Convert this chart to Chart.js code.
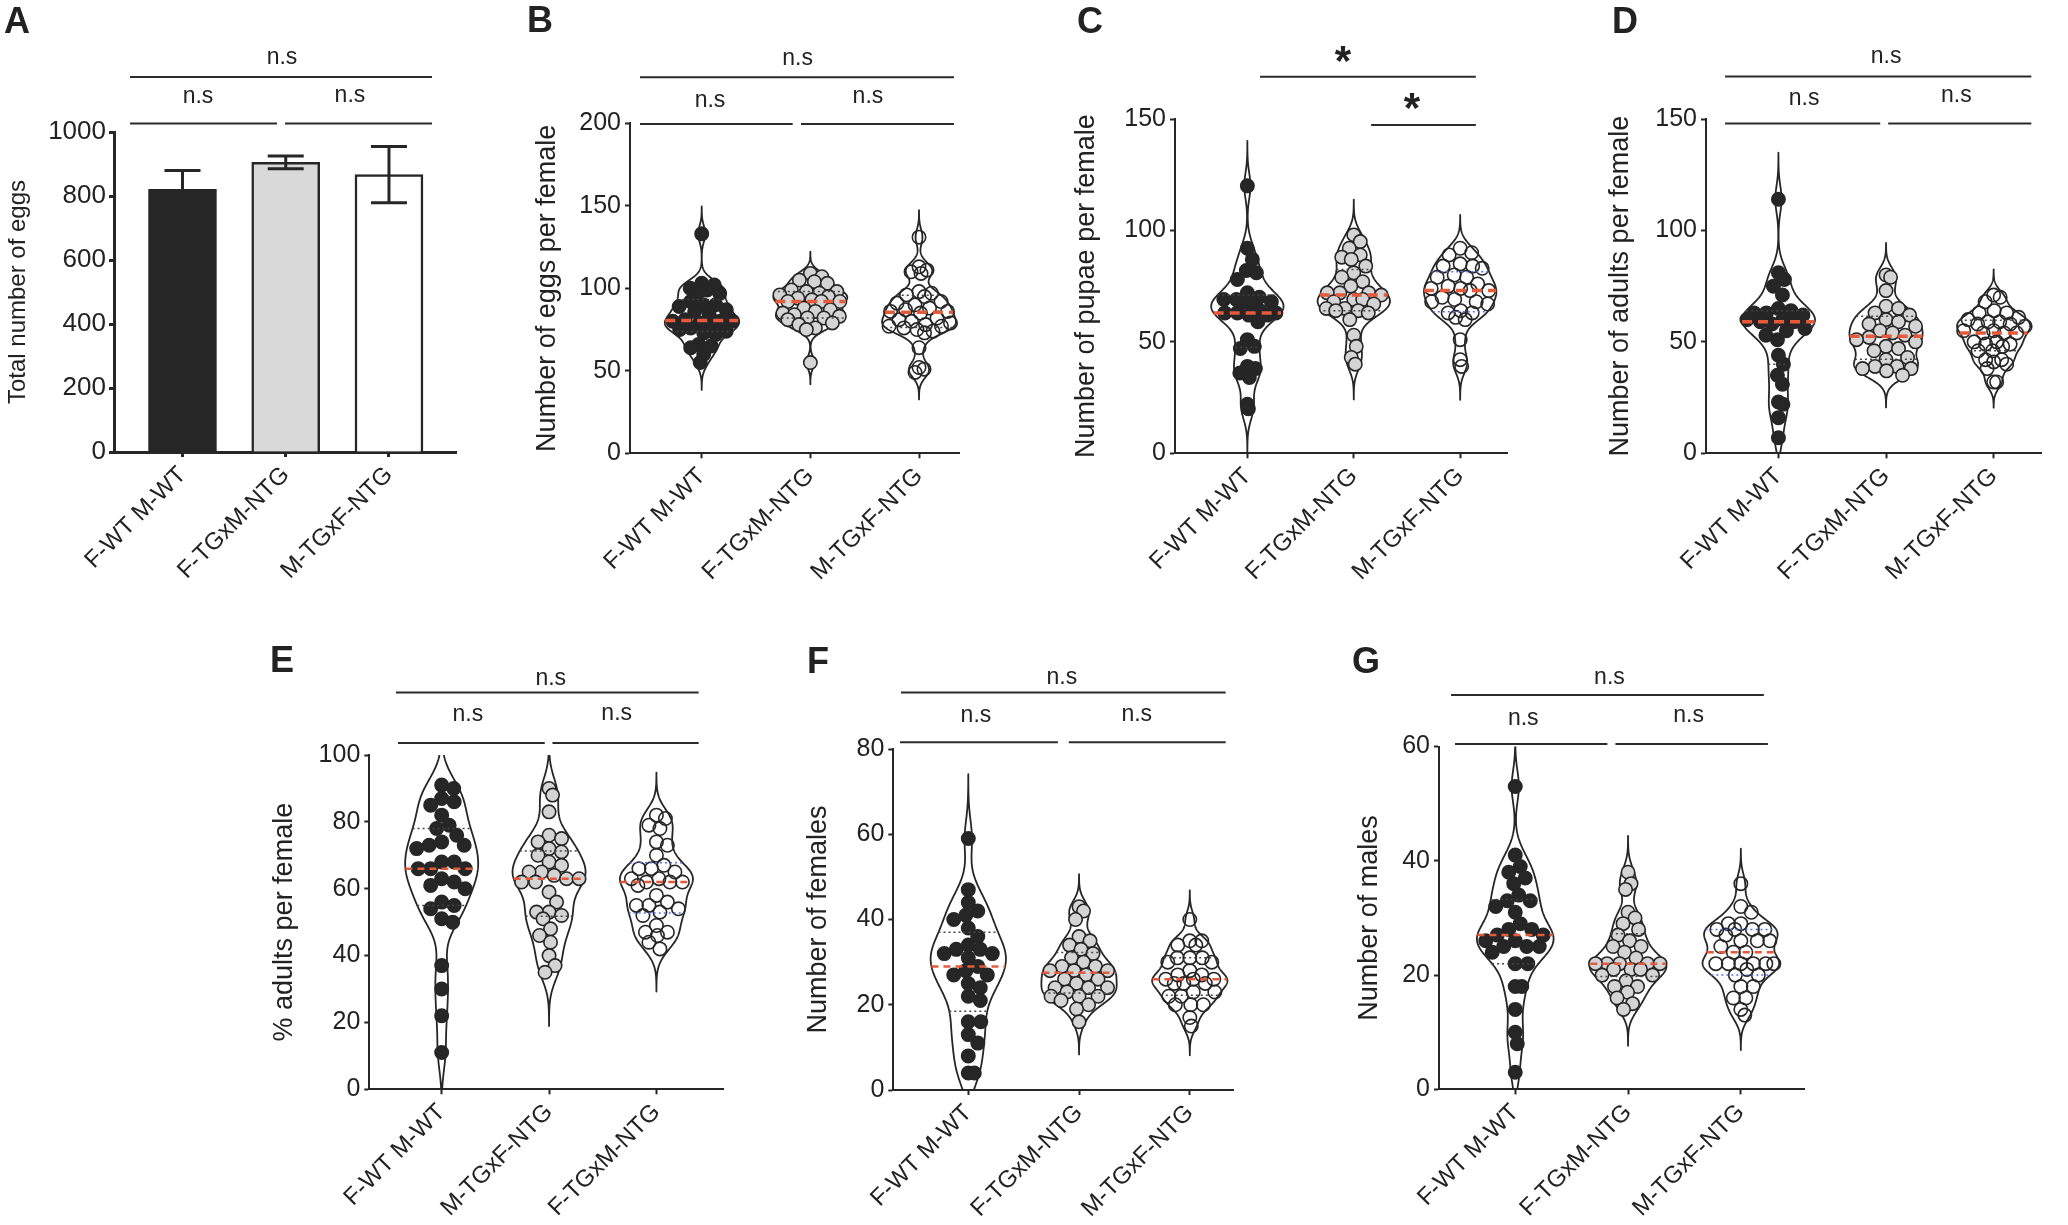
<!DOCTYPE html>
<html><head><meta charset="utf-8">
<script src="https://cdn.jsdelivr.net/npm/chart.js@4.4.1/dist/chart.umd.min.js"></script>
<style>
html,body{margin:0;padding:0;background:#fff;width:2068px;height:1225px;overflow:hidden;position:relative}
canvas{position:absolute}
</style></head><body>
<script>
// ---------------- DATA ----------------
const CATS   = ["F-WT M-WT", "F-TGxM-NTG", "M-TGxF-NTG"];
const CATS_E = ["F-WT M-WT", "M-TGxF-NTG", "F-TGxM-NTG"];

// Panel A: total number of eggs (mean, error)
const totalEggsMean = [821, 905, 867];
const totalEggsErr  = [59, 20, 88];

// Panel B: number of eggs per female
const eggs_WT  = [133,103,102,100,99,98,97,92,90,90,89,87,86,84,81,80,80,80,79,78,76,75,74,73,72,66,65,64,60,55];
const eggs_FTG = [109,107,105,104,103,99,98,98,97,96,95,94,93,92,92,92,88,87,86,85,84,83,82,82,81,79,78,76,75,55];
const eggs_MTG = [131,113,111,110,109,98,97,96,95,92,91,90,88,87,86,86,85,82,81,80,79,78,77,77,76,75,74,73,64,52,51,49];

// Panel C: number of pupae per female
const pupae_WT  = [120,92,87,82,81,78,72,70,69,69,68,68,68,64,63,63,63,62,62,59,51,48,47,39,38,36,34,22,20];
const pupae_FTG = [98,95,92,89,88,87,84,81,79,77,75,72,72,72,71,69,69,68,67,65,65,64,64,63,60,53,48,43,40];
const pupae_MTG = [92,90,89,85,84,84,83,80,79,79,76,75,74,74,73,73,70,69,68,68,67,64,63,63,61,60,51,42,39];

// Panel D: number of adults per female
const adults_WT  = [114,81,78,75,71,65,64,63,63,62,60,60,59,59,58,56,55,53,51,44,40,35,31,23,22,16,7];
const adults_FTG = [80,79,73,66,65,63,62,60,59,58,57,55,54,53,52,51,50,48,47,46,43,42,39,39,38,38,37,35];
const adults_MTG = [71,70,68,64,63,63,61,60,59,59,58,58,57,55,55,54,54,54,50,50,49,49,48,46,46,42,42,41,40,38,32,32];

// Panel E: % adults per female
const pct_WT  = [91,90,87,86,85,82,79,78,76,74,73,73,72,68,68,66,66,66,63,62,61,60,56,55,54,51,50,37,30,22,11];
const pct_MTG = [90,88,83,76,75,74,72,71,70,68,67,65,65,64,63,63,62,62,59,56,53,53,52,51,48,46,44,40,37,35];
const pct_FTG = [82,81,79,78,74,73,70,67,66,66,65,63,63,62,62,62,61,58,56,55,55,54,53,52,49,47,47,46,44,42];

// Panel F: number of females
const females_WT  = [59,47,44,42,41,40,38,36,34,33,33,32,32,31,29,28,27,27,25,24,22,21,16,16,13,11,8,4,4];
const females_FTG = [43,42,40,36,35,34,33,32,31,30,29,29,28,28,28,27,26,26,25,24,24,24,23,22,22,22,21,20,19,16];
const females_MTG = [40,35,35,34,34,31,31,31,30,30,28,27,27,26,26,26,25,25,25,23,23,22,22,20,20,20,17,15];

// Panel G: number of males
const males_WT  = [53,41,39,38,37,36,34,33,33,32,31,29,28,28,27,27,26,26,25,25,25,24,22,22,18,18,14,10,8,3];
const males_FTG = [38,36,35,31,30,29,28,27,26,25,25,24,23,22,22,22,22,22,21,21,21,20,20,19,18,18,17,16,15,14];
const males_MTG = [36,32,31,29,29,28,28,28,28,27,26,26,26,25,24,24,22,22,22,22,22,22,21,20,20,18,18,16,16,14,13];

// Tick values
const ticksA = [0,200,400,600,800,1000];
const ticksB = [0,50,100,150,200];
const ticksC = [0,50,100,150];
const ticksD = [0,50,100,150];
const ticksE = [0,20,40,60,80,100];
const ticksF = [0,20,40,60,80];
const ticksG = [0,20,40,60];

// ---------------- STYLE ----------------
Chart.defaults.font.family = "'Liberation Sans', Arial, Helvetica, sans-serif";
Chart.defaults.color = '#222';
const INK = '#262626';
const FILLS = ['#262626', '#d4d4d4', 'rgba(255,255,255,0)'];
const BAR_FILLS = ['#262626', '#d9d9d9', '#ffffff'];
const RED = '#e65a3a';
const BLUE = '#5a6fd8';
const DARKDOT = '#444';

// ---------------- PANELS (layout) ----------------
const panels = [
  { kind:'bar', rect:[0,0,480,620], plot:[114,132,456.7,452], xr:[0.3366,3.656], yMax:1000, yTicks:ticksA,
    cats:CATS, title:'Total number of eggs', titleSize:24, titleCenter:18.5, tickSize:26, tickPad:3, axisW:3, catSize:24,
    letter:{t:'A', x:4, y:33},
    lines:[[0.492,3.417,77],[0.492,1.915,123.5],[1.993,3.417,123.5]],
    texts:[['n.s',1.964,64],['n.s',1.150,103],['n.s',2.622,102]] },
  { kind:'violin', rect:[520,0,460,620], plot:[630,123.3,959,453.3], xr:[0.34,3.368], yMax:200, yTicks:ticksB,
    cats:CATS, groups:[eggs_WT, eggs_FTG, eggs_MTG], title:'Number of eggs per female', titleSize:27, titleCenter:548,
    tickSize:25, tickPad:4, axisW:2, catSize:24, medW:3.5, medDash:[10,6], qCols:[DARKDOT,DARKDOT,DARKDOT],
    letter:{t:'B', x:527, y:32},
    lines:[[0.432,3.322,77.3],[0.432,1.837,124],[1.914,3.322,124]],
    texts:[['n.s',1.883,65],['n.s',1.076,107],['n.s',2.530,103]] },
  { kind:'violin', rect:[1060,0,470,620], plot:[1175,119,1507,453.3], xr:[0.32,3.44], yMax:150, yTicks:ticksC,
    cats:CATS, groups:[pupae_WT, pupae_FTG, pupae_MTG], title:'Number of pupae per female', titleSize:27, titleCenter:1087,
    tickSize:25, tickPad:4, axisW:2, catSize:24, medW:3.5, medDash:[10,6], qCols:[DARKDOT,DARKDOT,BLUE],
    letter:{t:'C', x:1077, y:33},
    lines:[[1.119,3.147,76.7],[2.163,3.147,125]],
    stars:[['*',1.897,75],['*',2.546,122]] },
  { kind:'violin', rect:[1595,0,473,620], plot:[1706,119,2041,453.3], xr:[0.327,3.44], yMax:150, yTicks:ticksD,
    cats:CATS, groups:[adults_WT, adults_FTG, adults_MTG], title:'Number of adults per female', titleSize:27, titleCenter:1621,
    tickSize:25, tickPad:4, axisW:2, catSize:24, medW:3.5, medDash:[10,6], qCols:[DARKDOT,DARKDOT,DARKDOT],
    letter:{t:'D', x:1612, y:33},
    lines:[[0.504,3.350,76.5],[0.504,1.946,123.5],[2.020,3.350,123.5]],
    texts:[['n.s',2.001,63],['n.s',1.239,105],['n.s',2.653,102]] },
  { kind:'violin', rect:[255,630,480,595], plot:[369.3,755,723,1089.3], xr:[0.326,3.62], yMax:100, yTicks:ticksE,
    cats:CATS_E, groups:[pct_WT, pct_MTG, pct_FTG], title:'% adults per female', titleSize:27, titleCenter:285,
    tickSize:25, tickPad:4, axisW:2, catSize:24, medW:2.5, medDash:[7,5], qCols:[DARKDOT,DARKDOT,BLUE],
    letter:{t:'E', x:270, y:672},
    lines:[[0.574,3.393,692.4],[0.593,1.960,743],[2.032,3.393,743]],
    texts:[['n.s',2.016,685],['n.s',1.244,721],['n.s',2.630,719.5]] },
  { kind:'violin', rect:[790,630,460,595], plot:[893.3,749,1233,1090], xr:[0.323,3.39], yMax:80, yTicks:ticksF,
    cats:CATS, groups:[females_WT, females_FTG, females_MTG], title:'Number of females', titleSize:27, titleCenter:819,
    tickSize:25, tickPad:4, axisW:2, catSize:24, medW:2.5, medDash:[7,5], qCols:[DARKDOT,DARKDOT,DARKDOT],
    letter:{t:'F', x:807, y:673},
    lines:[[0.392,3.324,692.4],[0.383,1.809,742.3],[1.908,3.324,742.3]],
    texts:[['n.s',1.845,684],['n.s',1.069,722],['n.s',2.521,721]] },
  { kind:'violin', rect:[1340,630,480,595], plot:[1439,746.5,1804,1089.4], xr:[0.324,3.56], yMax:60, yTicks:ticksG,
    cats:CATS, groups:[males_WT, males_FTG, males_MTG], title:'Number of males', titleSize:27, titleCenter:1370,
    tickSize:25, tickPad:4, axisW:2, catSize:24, medW:2.5, medDash:[7,5], qCols:[DARKDOT,DARKDOT,BLUE],
    letter:{t:'G', x:1352, y:673},
    lines:[[0.431,3.204,695],[0.466,1.817,744],[1.888,3.240,744]],
    texts:[['n.s',1.835,684],['n.s',1.071,725],['n.s',2.537,722]] }
];

// ---------------- HELPERS ----------------
function quantile(s, p) {
  const n = s.length;
  const pos = (n + 1) * p - 1;
  if (pos <= 0) return s[0];
  if (pos >= n - 1) return s[n - 1];
  const i = Math.floor(pos), f = pos - i;
  return s[i] + f * (s[i + 1] - s[i]);
}
function violinStats(vals) {
  const s = vals.slice().sort((a, b) => a - b);
  const n = s.length;
  const mean = s.reduce((a, b) => a + b, 0) / n;
  const sd = Math.sqrt(s.reduce((a, b) => a + (b - mean) ** 2, 0) / (n - 1));
  const q1 = quantile(s, 0.25), med = quantile(s, 0.5), q3 = quantile(s, 0.75);
  const spread = Math.min(sd, (q3 - q1) / 1.34 || sd);
  const h0 = 0.9 * spread * Math.pow(n, -0.2);
  const h = h0 * 0.72;
  const lo = s[0] - 2.5 * h0, hi = s[n - 1] + 2.5 * h0;
  const dens = y => { let t = 0; for (const v of s) { const z = (y - v) / h; t += Math.exp(-0.5 * z * z); } return t; };
  let maxD = 0;
  for (let i = 0; i <= 500; i++) { const d = dens(lo + (hi - lo) * i / 500); if (d > maxD) maxD = d; }
  const halfW = y => 0.34 * dens(y) / maxD;
  return { vals: s, q1, med, q3, lo, hi, halfW };
}
function swarm(chart, st, g, r) {
  const xs = chart.scales.x, ys = chart.scales.y;
  const ppu = xs.getPixelForValue(2) - xs.getPixelForValue(1);
  const vals = st.vals.slice().sort((a, b) => b - a);
  const placed = [];
  const minD = 2 * r * 0.93;
  const out = [];
  for (const v of vals) {
    const py = ys.getPixelForValue(v);
    const maxOff = Math.max(0, st.halfW(v) * ppu - r * 0.75);
    let best = 0, bestMd = -1;
    let found = false;
    for (let s = 0; s <= maxOff && !found; s += 0.5) {
      const cands = s === 0 ? [0] : [s, -s];
      for (const off of cands) {
        let md = Infinity;
        for (const p of placed) {
          const d = Math.hypot(p[0] - off, p[1] - py);
          if (d < md) md = d;
        }
        if (md >= minD) { best = off; found = true; break; }
        if (md > bestMd) { bestMd = md; best = off; }
      }
    }
    placed.push([best, py]);
    out.push({ x: g + 1 + best / ppu, y: v });
  }
  return out;
}

// ---------------- BUILD ----------------
function build(p) {
  const [L, T, W, H] = p.rect;
  const [pl, pt, pr, pb] = p.plot;
  const cv = document.createElement('canvas');
  cv.width = W; cv.height = H;
  cv.style.left = L + 'px'; cv.style.top = T + 'px';
  cv.style.width = W + 'px'; cv.style.height = H + 'px';
  document.body.appendChild(cv);

  const yW = pl - L, xH = T + H - pb;
  const titleLH = p.titleSize * 1.2;
  const stats = p.kind === 'violin' ? p.groups.map(violinStats) : null;
  const R = 6.7;

  let datasets;
  if (p.kind === 'bar') {
    datasets = [{
      type: 'bar',
      data: totalEggsMean.map((v, i) => ({ x: i + 1, y: v })),
      backgroundColor: BAR_FILLS, borderColor: INK, borderWidth: 2.5,
      barThickness: 68, borderSkipped: 'bottom'
    }];
  } else {
    datasets = p.groups.map((vals, g) => ({
      type: 'scatter',
      data: vals.map(v => ({ x: g + 1, y: v })),
      pointRadius: R, pointHoverRadius: R,
      pointBackgroundColor: FILLS[g], pointBorderColor: INK, pointBorderWidth: 1.6,
      showLine: false, clip: false
    }));
  }

  const decor = {
    id: 'decor',
    beforeDatasetsDraw(chart) {
      if (!stats) return;
      const ctx = chart.ctx, xs = chart.scales.x, ys = chart.scales.y, a = chart.chartArea;
      ctx.save();
      ctx.beginPath(); ctx.rect(a.left, a.top, a.right - a.left, a.bottom - a.top); ctx.clip();
      ctx.strokeStyle = INK; ctx.lineWidth = 1.8; ctx.lineJoin = 'round';
      stats.forEach((st, g) => {
        const c = g + 1, N = 300;
        ctx.beginPath();
        for (let i = 0; i <= N; i++) {
          const y = st.lo + (st.hi - st.lo) * i / N;
          const px = xs.getPixelForValue(c + st.halfW(y)), py = ys.getPixelForValue(y);
          if (i === 0) ctx.moveTo(px, py); else ctx.lineTo(px, py);
        }
        for (let i = N; i >= 0; i--) {
          const y = st.lo + (st.hi - st.lo) * i / N;
          ctx.lineTo(xs.getPixelForValue(c - st.halfW(y)), ys.getPixelForValue(y));
        }
        ctx.closePath();
        ctx.stroke();
      });
      ctx.restore();
    },
    afterDatasetsDraw(chart) {
      const ctx = chart.ctx, xs = chart.scales.x, ys = chart.scales.y;
      ctx.save();
      if (stats) {
        stats.forEach((st, g) => {
          const c = g + 1;
          const hline = (v, col, w, dash) => {
            const hw = st.halfW(v);
            ctx.beginPath();
            ctx.setLineDash(dash); ctx.strokeStyle = col; ctx.lineWidth = w;
            ctx.moveTo(xs.getPixelForValue(c - hw), ys.getPixelForValue(v));
            ctx.lineTo(xs.getPixelForValue(c + hw), ys.getPixelForValue(v));
            ctx.stroke();
          };
          hline(st.q1, p.qCols[g], 1.5, [2, 3]);
          hline(st.q3, p.qCols[g], 1.5, [2, 3]);
          hline(st.med, RED, p.medW, p.medDash);
        });
      } else {
        ctx.strokeStyle = INK; ctx.lineWidth = 3; ctx.setLineDash([]);
        totalEggsMean.forEach((m, i) => {
          const x = xs.getPixelForValue(i + 1);
          const yt = ys.getPixelForValue(m + totalEggsErr[i]);
          const yb = ys.getPixelForValue(m - totalEggsErr[i]);
          ctx.beginPath();
          ctx.moveTo(x, yb); ctx.lineTo(x, yt);
          ctx.moveTo(x - 18, yt); ctx.lineTo(x + 18, yt);
          ctx.moveTo(x - 18, yb); ctx.lineTo(x + 18, yb);
          ctx.stroke();
        });
      }
      ctx.restore();
    },
    afterDraw(chart) {
      const ctx = chart.ctx, xs = chart.scales.x;
      ctx.save();
      ctx.fillStyle = '#222'; ctx.strokeStyle = '#2b2b2b'; ctx.lineWidth = 2; ctx.setLineDash([]);
      (p.lines || []).forEach(([u1, u2, y]) => {
        ctx.beginPath();
        ctx.moveTo(xs.getPixelForValue(u1), y - T);
        ctx.lineTo(xs.getPixelForValue(u2), y - T);
        ctx.stroke();
      });
      ctx.textAlign = 'center'; ctx.textBaseline = 'alphabetic';
      ctx.font = "23px 'Liberation Sans', Arial, sans-serif";
      (p.texts || []).forEach(([t, u, y]) => ctx.fillText(t, xs.getPixelForValue(u), y - T));
      ctx.font = "bold 42px 'Liberation Sans', Arial, sans-serif";
      (p.stars || []).forEach(([t, u, y]) => ctx.fillText(t, xs.getPixelForValue(u), y - T));
      ctx.textAlign = 'left';
      ctx.font = "bold 36px 'Liberation Sans', Arial, sans-serif";
      ctx.fillText(p.letter.t, p.letter.x - L, p.letter.y - T);
      ctx.restore();
    }
  };

  const axisCommon = {
    grid: { display: true, drawOnChartArea: false, drawTicks: true, tickLength: 5, tickWidth: p.axisW,
            tickColor: INK, color: INK, offset: false },
    border: { display: true, color: INK, width: p.axisW }
  };

  const chart = new Chart(cv.getContext('2d'), {
    type: p.kind === 'bar' ? 'bar' : 'scatter',
    data: { datasets },
    options: {
      responsive: false, animation: false, devicePixelRatio: 1,
      events: [],
      layout: { padding: { top: pt - T, right: L + W - pr, left: 0, bottom: 0 } },
      plugins: { legend: { display: false }, tooltip: { enabled: false } },
      scales: {
        x: Object.assign({}, axisCommon, {
          type: 'linear', min: p.xr[0], max: p.xr[1], offset: false,
          afterBuildTicks: s => { s.ticks = p.cats.map((c, i) => ({ value: i + 1 })); },
          afterFit: s => { s.height = xH; s.paddingLeft = 0; s.paddingRight = 0; },
          ticks: { autoSkip: false, minRotation: 45, maxRotation: 45, padding: 4, color: '#222',
                   font: { size: p.catSize }, callback: v => p.cats[Math.round(v) - 1] }
        }),
        y: Object.assign({}, axisCommon, {
          type: 'linear', min: 0, max: p.yMax,
          afterBuildTicks: s => { s.ticks = p.yTicks.map(v => ({ value: v })); },
          afterFit: s => { s.width = yW; s.paddingTop = 0; s.paddingBottom = 0; },
          ticks: { autoSkip: false, padding: p.tickPad, color: '#222', font: { size: p.tickSize },
                   callback: v => String(v) },
          title: { display: true, text: p.title, color: '#222', font: { size: p.titleSize },
                   padding: { top: (p.titleCenter - L) - titleLH / 2, bottom: 0 } }
        })
      }
    },
    plugins: [decor]
  });

  if (stats) {
    stats.forEach((st, g) => { chart.data.datasets[g].data = swarm(chart, st, g, R); });
    chart.update('none');
  }
  return chart;
}

panels.forEach(build);
</script>
</body></html>
